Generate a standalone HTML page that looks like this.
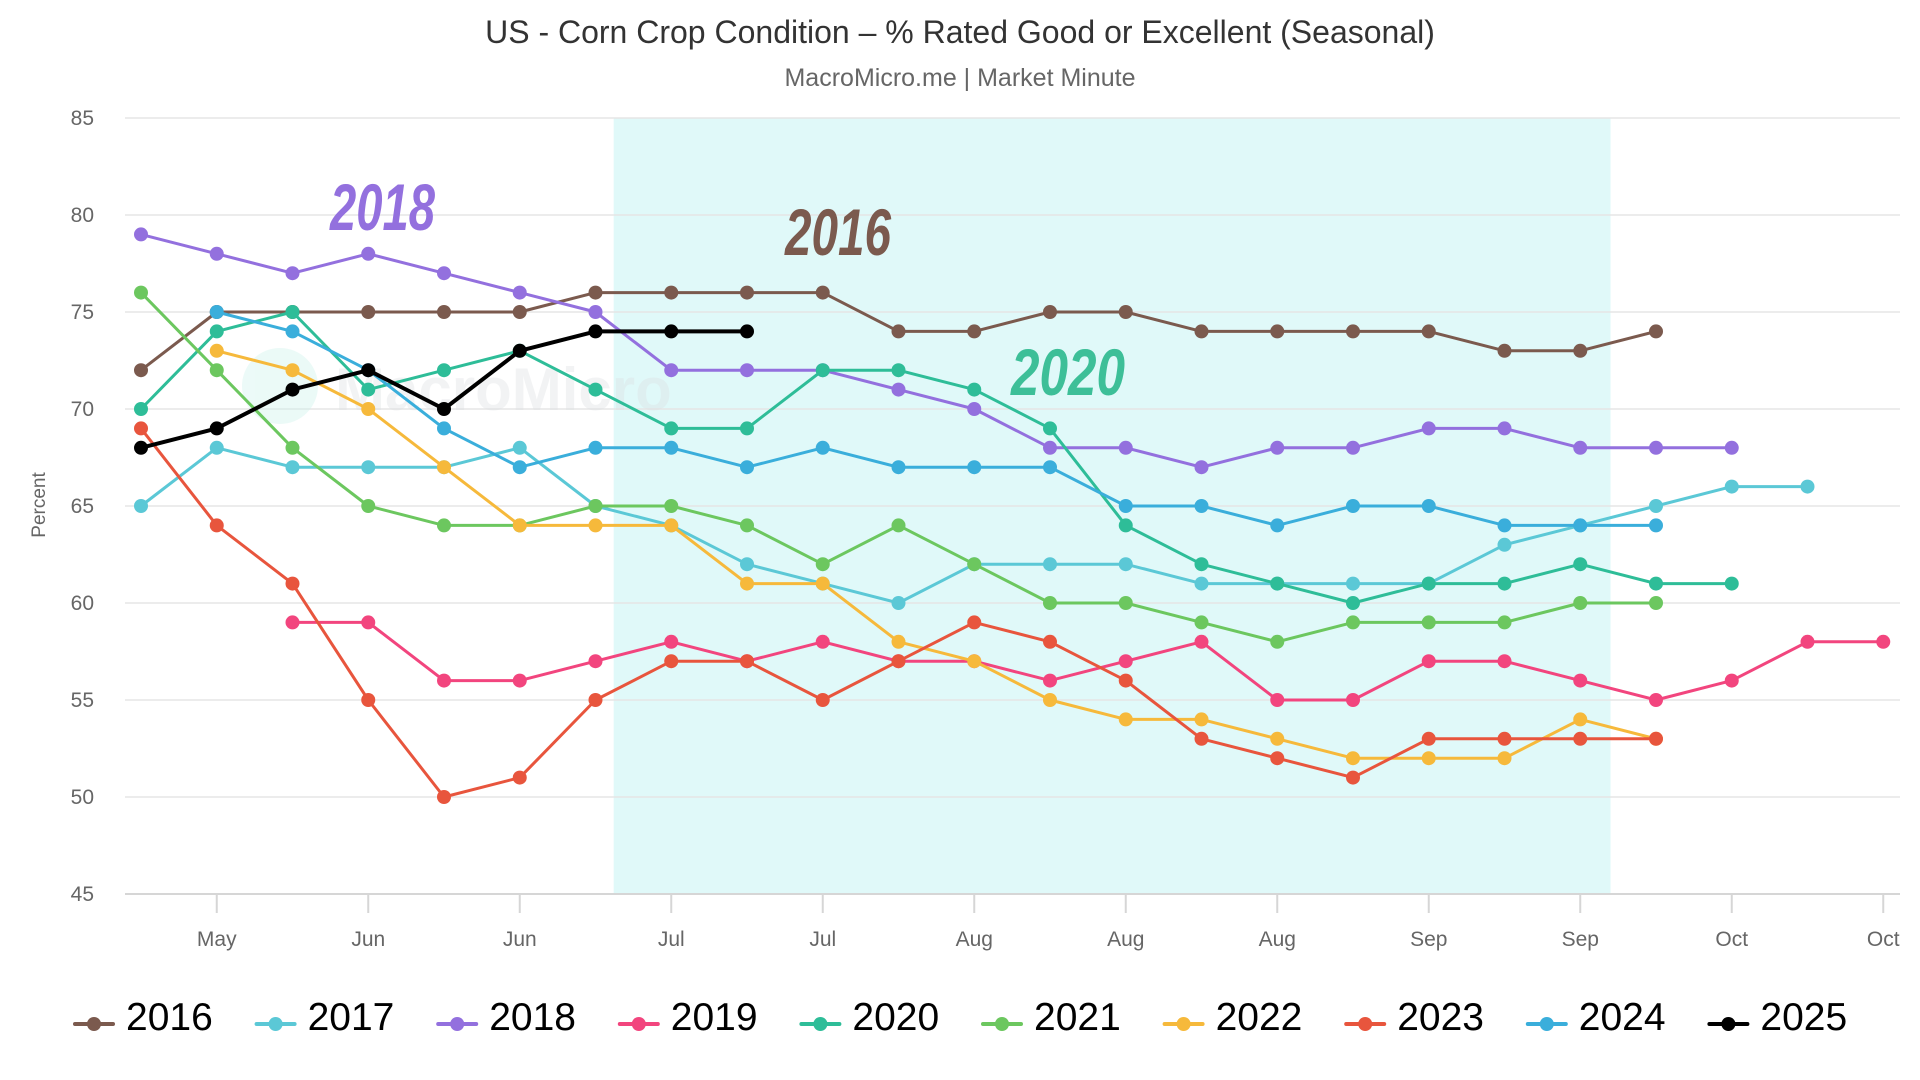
<!DOCTYPE html>
<html><head><meta charset="utf-8"><style>
html,body{margin:0;padding:0;background:#fff;}
svg{display:block;font-family:"Liberation Sans",sans-serif;}
</style></head><body>
<svg id="chart" width="1920" height="1080" viewBox="0 0 1920 1080" xmlns="http://www.w3.org/2000/svg">
<text x="960" y="43" text-anchor="middle" font-size="32" fill="#333">US - Corn Crop Condition – % Rated Good or Excellent (Seasonal)</text>
<text x="960" y="86" text-anchor="middle" font-size="25" fill="#666">MacroMicro.me | Market Minute</text>
<g id="plot"></g>
</svg>
<script>
const yTicks = [45,50,55,60,65,70,75,80,85];
const xTickLabels = ["May","Jun","Jun","Jul","Jul","Aug","Aug","Aug","Sep","Sep","Oct","Oct"];
const years = ["2016","2017","2018","2019","2020","2021","2022","2023","2024","2025"];
const colors = ["#7b5a4e","#5bc8d6","#9370de","#f2457e","#2ebd98","#6cc75f","#f6b93b","#e8553d","#3aaedb","#000000"];
const startIdx = [0,0,0,2,0,0,1,0,1,0];
const s2016 = [72,75,75,75,75,75,76,76,76,76,74,74,75,75,74,74,74,74,73,73,74];
const s2017 = [65,68,67,67,67,68,65,64,62,61,60,62,62,62,61,61,61,61,63,64,65,66,66];
const s2018 = [79,78,77,78,77,76,75,72,72,72,71,70,68,68,67,68,68,69,69,68,68,68];
const s2019 = [59,59,56,56,57,58,57,58,57,57,56,57,58,55,55,57,57,56,55,56,58,58];
const s2020 = [70,74,75,71,72,73,71,69,69,72,72,71,69,64,62,61,60,61,61,62,61,61];
const s2021 = [76,72,68,65,64,64,65,65,64,62,64,62,60,60,59,58,59,59,59,60,60];
const s2022 = [73,72,70,67,64,64,64,61,61,58,57,55,54,54,53,52,52,52,54,53];
const s2023 = [69,64,61,55,50,51,55,57,57,55,57,59,58,56,53,52,51,53,53,53,53];
const s2024 = [75,74,72,69,67,68,68,67,68,67,67,67,65,65,64,65,65,64,64,64];
const s2025 = [68,69,71,72,70,73,74,74,74];
const series = [s2016,s2017,s2018,s2019,s2020,s2021,s2022,s2023,s2024,s2025];
const shadeRange = [6.24,19.4];

const NS="http://www.w3.org/2000/svg";
const g=document.getElementById('plot');
const X0=141, DX=75.75, Y45=894, PXU=97/5;
const xs=i=>X0+DX*i;
const ys=v=>Y45-(v-45)*PXU;
function mk(tag,attrs,parent){const e=document.createElementNS(NS,tag);for(const k in attrs)e.setAttribute(k,attrs[k]);(parent||g).appendChild(e);return e;}

let sh=mk('rect',{x:xs(shadeRange[0]),y:ys(85),width:xs(shadeRange[1])-xs(shadeRange[0]),height:ys(45)-ys(85),fill:'#e0f9f9'});



yTicks.forEach(v=>{
  let l=mk('line',{x1:125,x2:1900,y1:ys(v),y2:ys(v),stroke:v===45?'#d6d6d6':'#e6e6e6','stroke-width':v===45?2:1.5});
  
  
  let t=mk('text',{x:94,y:ys(v)+7,'text-anchor':'end','font-size':21,fill:'#666'});
  t.textContent=v;
  
  
});
let yt=mk('text',{x:0,y:0,transform:'translate(45,505) rotate(-90)','text-anchor':'middle','font-size':19,fill:'#666'});
yt.textContent='Percent';



xTickLabels.forEach((lab,k)=>{
  const x=xs(1+2*k);
  let l=mk('line',{x1:x,x2:x,y1:895,y2:913,stroke:'#d6d6d6','stroke-width':2});
  
  
  let t=mk('text',{x:x,y:946,'text-anchor':'middle','font-size':21,fill:'#666'});
  t.textContent=lab;
  
  
});

let wm=mk('g',{opacity:0.35});


mk('circle',{cx:280,cy:386,r:38,fill:'#c8f2ea'},wm);
let wt=mk('text',{x:335,y:410,'font-size':60,'font-weight':'bold',fill:'#dcdfe2'},wm);
wt.textContent='MacroMicro';

[["2018",330,230,105,"#9370de"],["2016",785,255,106,"#7b5a4e"],["2020",1011,395,114,"#3dbf98"]].forEach(a=>{
  let t=mk('text',{x:a[1],y:a[2],'font-size':66,'font-weight':'bold','font-style':'italic',fill:a[4],textLength:a[3],lengthAdjust:'spacingAndGlyphs',style:'font-family:"Liberation Sans Narrow","Liberation Sans",sans-serif'});
  t.textContent=a[0];
  
  
});

series.forEach((arr,si)=>{
  const sg=mk('g',{});
  
  
  const pts=arr.map((v,j)=>xs(startIdx[si]+j).toFixed(1)+','+ys(v).toFixed(1)).join(' ');
  const pl=mk('polyline',{points:pts,fill:'none',stroke:colors[si],'stroke-width':si===9?4:3,'stroke-linejoin':'round'},sg);
  
  
  arr.forEach((v,j)=>{
    const c=mk('circle',{cx:xs(startIdx[si]+j),cy:ys(v),r:7,fill:colors[si]},sg);
    
    
  });
});

years.forEach((y,i)=>{
  const lx=75+i*181.6;
  const lg=mk('g',{});
  
  
  mk('line',{x1:lx,x2:lx+38,y1:1024,y2:1024,stroke:colors[i],'stroke-width':4,'stroke-linecap':'round'},lg);
  mk('circle',{cx:lx+19,cy:1024,r:7,fill:colors[i]},lg);
  const t=mk('text',{x:lx+51,y:1030,'font-size':39,fill:'#000'},lg);
  t.textContent=y;
});
</script>
</body></html>
